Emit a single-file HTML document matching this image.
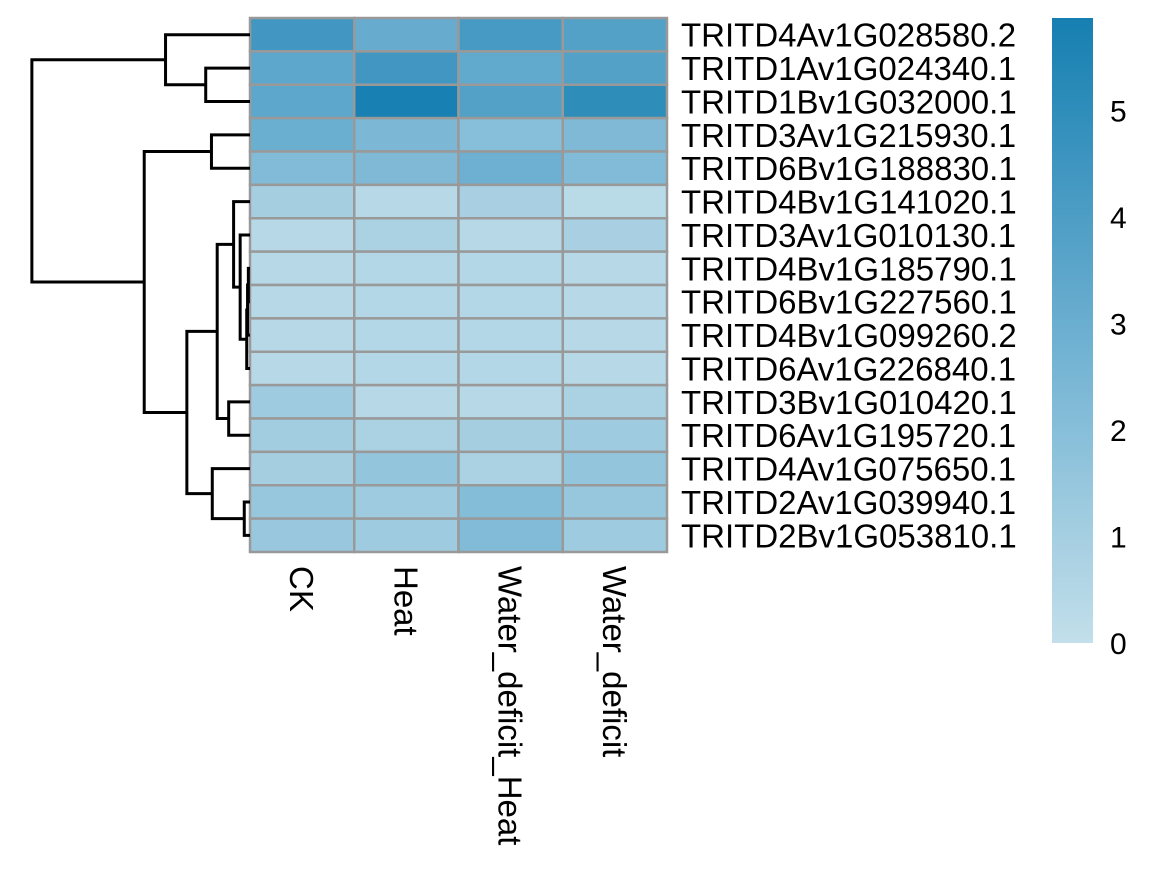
<!DOCTYPE html>
<html><head><meta charset="utf-8"><style>body{margin:0;background:#fff}svg{display:block}text{font-family:"Liberation Sans",sans-serif;fill:#000}</style></head>
<body>
<svg id="c" width="1170" height="877"></svg>
<script>
const rowLabels=["TRITD4Av1G028580.2","TRITD1Av1G024340.1","TRITD1Bv1G032000.1","TRITD3Av1G215930.1","TRITD6Bv1G188830.1","TRITD4Bv1G141020.1","TRITD3Av1G010130.1","TRITD4Bv1G185790.1","TRITD6Bv1G227560.1","TRITD4Bv1G099260.2","TRITD6Av1G226840.1","TRITD3Bv1G010420.1","TRITD6Av1G195720.1","TRITD4Av1G075650.1","TRITD2Av1G039940.1","TRITD2Bv1G053810.1"];
const colLabels=["CK","Heat","Water_deficit_Heat","Water_deficit"];
const values=[[4.4,3.1,4.2,3.8],[3.4,4.4,3.3,3.8],[3.4,5.8,3.8,5.0],[3.0,2.4,2.0,2.3],[2.2,2.3,2.9,2.2],[1.0,0.4,0.9,0.3],[0.4,0.8,0.4,0.9],[0.4,0.5,0.5,0.4],[0.4,0.5,0.5,0.4],[0.4,0.5,0.5,0.4],[0.4,0.5,0.5,0.4],[1.2,0.4,0.4,0.8],[1.1,0.8,1.0,1.2],[1.0,1.6,0.8,1.6],[1.5,1.2,2.1,1.5],[1.4,1.2,2.2,1.2]];
const legendTicks=[0,1,2,3,4,5];
// dendrogram merges: [left, right, height]; negatives = leaf index
const merges=[[-8,-9,0.2],[[0],-10,0.3],[[1],-11,0.4],[-7,[2],1.2],[-6,[3],2],[-12,-13,2.6],[[4],[5],4.0],[-15,-16,0.7],[-14,[7],4.6],[[6],[8],7.7],[-4,-5,4.7],[[10],[9],12.9],[-2,-3,5.4],[-1,[12],10.3],[[13],[11],26.6]];
const NS="http://www.w3.org/2000/svg",svg=document.getElementById('c');
function el(t,a,p){const e=document.createElementNS(NS,t);for(const k in a)e.setAttribute(k,a[k]);(p||svg).appendChild(e);return e;}
const X0=250,CW=104.25,Y0=18,RH=33.375,vmax=5.87;
const yRow=i=>Y0+RH*(i+0.5);
function col(v){const s=[[0,[194,223,234]],[3,[106,174,208]],[5.87,[22,127,177]]];let a=s[0],b=s[1];if(v>3){a=s[1];b=s[2];}const t=Math.max(0,Math.min(1,(v-a[0])/(b[0]-a[0])));return 'rgb('+a[1].map((c,i)=>Math.round(c+(b[1][i]-c)*t)).join(',')+')';}
const g=el('g',{});

values.forEach((r,i)=>r.forEach((v,j)=>{const e=el('rect',{x:X0+CW*j,y:Y0+RH*i,width:CW,height:RH,fill:col(v),stroke:'#999',"stroke-width":2.5},g);
}));
rowLabels.forEach((l,i)=>{const t=el('text',{x:681,y:yRow(i)+12,"font-size":33});t.textContent=l;
});
colLabels.forEach((l,j)=>{const cx=X0+CW*(j+0.5)-12;const t=el('text',{x:0,y:0,"font-size":33,transform:`translate(${cx},566) rotate(90)`});t.textContent=l;
});
// dendrogram
const hx=h=>250-h*8.2;const nodes=[];const dg=el('g',{stroke:'#000',"stroke-width":3,fill:'none'});

function pos(r){if(Array.isArray(r))return nodes[r[0]];return {x:250,y:yRow(-r-1)};}
merges.forEach(m=>{const a=pos(m[0]),b=pos(m[1]),x=hx(m[2]);
el('path',{d:`M${a.x},${a.y}H${x}V${b.y}H${b.x}`},dg);nodes.push({x:x,y:(a.y+b.y)/2});});
// legend
const defs=el('defs',{});const lg=el('linearGradient',{id:'lg',x1:0,y1:1,x2:0,y2:0},defs);
for(let k=0;k<=10;k++){const v=vmax*k/10;el('stop',{offset:k/10,"stop-color":col(v)},lg);}
const lb=el('rect',{x:1052,y:18,width:41,height:625,fill:'url(#lg)'});

const ly=v=>643-v*(625/vmax);
legendTicks.forEach(v=>{const t=el('text',{x:1110,y:ly(v)+11,"font-size":30});t.textContent=v;
});
</script>
</body></html>
